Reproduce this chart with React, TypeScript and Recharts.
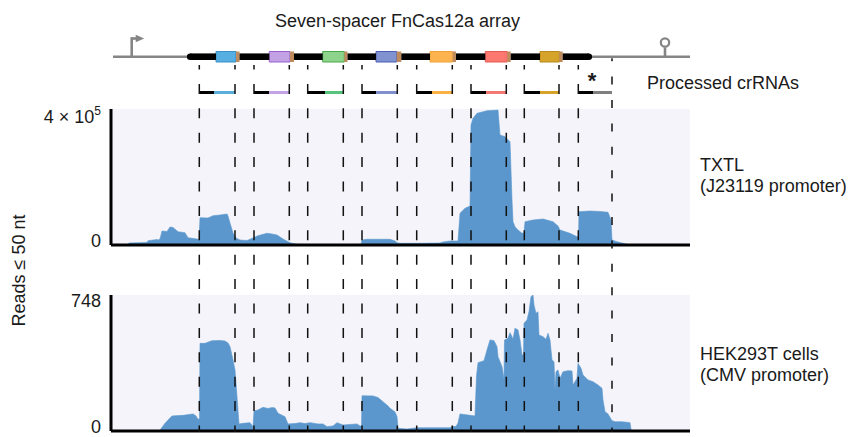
import React from 'react';
import {
  AreaChart,
  Area,
  XAxis,
  YAxis,
  CartesianGrid,
  ComposedChart,
  ReferenceLine,
  ReferenceArea,
  ReferenceDot,
} from 'recharts';

const W = 855;
const H = 437;
const FONT = '"Liberation Sans", Arial, Helvetica, sans-serif';
const TEXT = '#1a1a1a';
const AREA_BLUE = '#5b97cd';
const PANEL_BG = '#f4f4fa';

// position along the construct (nt, arbitrary origin at the plot start)
const X_DOMAIN: [number, number] = [0, 579];

// ---- TXTL coverage (reads <= 50 nt) ----
const txtlPositions = [
  17, 18, 36, 37, 46, 47, 49, 51, 56, 59,
  62, 65, 67, 74, 77, 86, 88, 89, 97, 102,
  109, 116, 117, 119, 122, 125, 129, 136, 142, 147,
  156, 161, 166, 172, 179, 186, 199, 250, 251, 256,
  279, 284, 286, 289, 309, 329, 332, 339, 347, 349,
  354, 359, 360, 362, 366, 376, 387, 389, 394, 399,
  401, 402, 404, 407, 411, 413, 414, 422, 432, 442,
  447, 449, 459, 466, 467.5, 468, 479, 489, 497, 500,
  501, 506, 516, 519,
];
const txtlReads = [
  0, 5900, 7400, 12600, 16200, 14700, 17600, 41200, 39700, 52900,
  51500, 44100, 39100, 36200, 21500, 17600, 16200, 80300, 79400, 86200,
  88200, 91200, 85300, 64700, 35300, 20600, 14700, 13200, 20600, 27400,
  34400, 32400, 29400, 17600, 6800, 2100, 600, 600, 14700, 16800,
  16800, 11800, 6800, 5000, 5000, 5900, 8800, 11800, 11800, 93200,
  107900, 114700, 352900, 372600, 387300, 395000, 397000, 323500, 318500, 303800,
  132300, 68500, 53800, 44100, 34400, 35300, 68500, 73500, 76500, 68500,
  55900, 44100, 34400, 24400, 24400, 97900, 100000, 98500, 96200, 73500,
  14700, 9700, 2100, 0,
];

// ---- HEK293T coverage (reads <= 50 nt) ----
const hekPositions = [
  48, 49, 54, 59, 61, 72, 82, 85, 87, 88.5,
  89, 94, 101, 109, 114, 117, 119, 122, 124, 126,
  128, 132, 139, 142, 143, 147, 152, 157, 161, 164,
  167, 174, 177, 184, 189, 194, 199, 207, 212, 216,
  222, 226, 232, 239, 246, 249, 250.5, 251, 262, 267,
  272, 277, 279, 284, 286, 287, 296, 306, 319, 339,
  341, 345, 347, 349, 357, 364, 365.5, 367, 373, 376,
  379, 383, 386, 387, 391, 393, 393.5, 397, 399, 401,
  402, 404, 407, 409, 411, 412.5, 413, 416, 418, 420,
  422, 423, 425, 427, 428, 432, 435, 437, 439, 441,
  443, 444, 445, 447, 449, 452, 457, 461, 462, 466,
  467, 470, 472, 477, 482, 487, 491, 492, 494, 497,
  501, 504, 511, 519, 520, 521,
];
const hekReads = [
  0, 5, 42, 72, 83, 86, 94, 83, 64, 66,
  482, 482, 497, 498, 495, 484, 464, 391, 336, 189,
  39, 42, 46, 24, 110, 116, 130, 124, 129, 127,
  97, 79, 39, 41, 46, 41, 46, 39, 39, 24,
  28, 46, 33, 36, 39, 28, 28, 194, 193, 184,
  161, 138, 125, 105, 79, 15, 11, 18, 18, 18,
  25, 25, 44, 94, 88, 83, 303, 376, 387, 446,
  501, 497, 464, 409, 354, 284, 501, 510, 541, 519,
  504, 565, 556, 501, 418, 418, 592, 611, 656, 739,
  748, 693, 647, 656, 528, 519, 504, 537, 501, 391,
  381, 226, 326, 336, 290, 326, 332, 330, 253, 290,
  372, 345, 308, 281, 271, 253, 235, 171, 106, 94,
  57, 51, 51, 46, 9, 0,
];

const txtlTicks = [0, 400000];
const hekTicks = [0, 748];

// ---- array schematic ----
const arrayStart = 76;
const arrayEnd = 481;
const promoterPos = 20.7;
const terminatorPos = 554;
const lineStart = 2;
const spacerStart = [105, 158.3, 211.7, 265, 319, 374.3, 429];
const spacerEnd = [125, 179, 233.3, 285.7, 341.7, 396.3, 448.3];
const handleEnd = [128.5, 183, 236.5, 290.3, 345, 399.7, 451.7];
const spacerFill = ['#56afe0', '#c2a2e4', '#8ed38b', '#8092cf', '#fdb44f', '#fb776f', '#d6a32b'];
const spacerStroke = ['#3b8fc8', '#9b60cf', '#4aa84c', '#4c5db5', '#f0a23a', '#e65c55', '#b88a1e'];
const handleColor = '#bf8b5c';

// processed crRNAs: start, repeat/spacer boundary, end
const crStart = [88.3, 143, 196.7, 251, 305.7, 360, 413.3, 467.3];
const crSplit = [103, 158.3, 214, 265, 321, 375, 429, 482];
const crEnd = [124, 178.3, 232.3, 286.3, 341.3, 395.3, 448, 501];
const crColors = ['#5aaedc', '#c3a3e3', '#56c47c', '#8190cc', '#fbb245', '#f47872', '#d6a32a', '#7f7f7f'];

const txtlData = txtlPositions.map((pos, i) => ({ pos, reads: txtlReads[i] }));
const hekData = hekPositions.map((pos, i) => ({ pos, reads: hekReads[i] }));
const frameData = crStart.map((pos) => ({ pos }));

// layout rows of the schematic (vertical layout units = px)
const Y_ARRAY = 56.7;
const Y_BOX_TOP = 51.5;
const Y_BOX_BOTTOM = 62;
const Y_BRACKET = 92.5;
const Y_DASH_TOP = 65;
const Y_DASH_BOTTOM = 432;
const Y_PROMOTER_TOP = 38.5;
const Y_TERM_TOP = 47.3;
const Y_TERM_CENTER = 42.5;
const GRAY = '#858585';

const makeTick = (offsets: Record<number, number>) => (props: any) => {
  const { x, y, payload } = props;
  const v = payload.value as number;
  const dy = offsets[v] ?? 0;
  if (v >= 10000) {
    const exp = Math.floor(Math.log10(v));
    const mant = Math.round(v / Math.pow(10, exp));
    return (
      <text x={x} y={y + dy} textAnchor="end" fontSize={18} fontFamily={FONT} fill={TEXT}>
        {`${mant} × 10`}
        <tspan dy={-8} fontSize={12}>
          {exp}
        </tspan>
      </text>
    );
  }
  return (
    <text x={x} y={y + dy} textAnchor="end" fontSize={18} fontFamily={FONT} fill={TEXT}>
      {v}
    </text>
  );
};

const abs: React.CSSProperties = { position: 'absolute', left: 0, top: 0 };

function Track({
  data,
  ticks,
  top,
  bottom,
  offsets,
}: {
  data: { pos: number; reads: number }[];
  ticks: number[];
  top: number;
  bottom: number;
  offsets: Record<number, number>;
}) {
  return (
    <div style={abs}>
      <AreaChart
        width={W}
        height={H}
        data={data}
        margin={{ top, right: 165, bottom: H - bottom - 2, left: 51 }}
      >
        <CartesianGrid fill={PANEL_BG} horizontal={false} vertical={false} />
        <XAxis
          type="number"
          dataKey="pos"
          domain={X_DOMAIN}
          allowDataOverflow
          tick={false}
          tickLine={false}
          height={2}
          axisLine={{ stroke: '#000', strokeWidth: 3 }}
        />
        <YAxis
          type="number"
          domain={[0, ticks[1]]}
          ticks={ticks}
          interval={0}
          width={60}
          tickSize={0}
          tickMargin={10}
          tickLine={false}
          axisLine={{ stroke: '#000', strokeWidth: 3 }}
          tick={makeTick(offsets)}
          allowDataOverflow
        />
        <Area
          type="linear"
          dataKey="reads"
          stroke={AREA_BLUE}
          strokeWidth={0.6}
          fill={AREA_BLUE}
          fillOpacity={1}
          dot={false}
          activeDot={false}
          isAnimationActive={false}
        />
      </AreaChart>
    </div>
  );
}

function Schematic() {
  const blackSegs: [number, number][] = [];
  blackSegs.push([arrayStart + 3.2, spacerStart[0]]);
  for (let i = 0; i < spacerStart.length - 1; i++) blackSegs.push([handleEnd[i], spacerStart[i + 1]]);
  blackSegs.push([handleEnd[handleEnd.length - 1], arrayEnd - 3.2]);

  const dashPositions = [...crStart, ...crEnd.slice(0, crEnd.length - 1)];
  const lastDash = crEnd[crEnd.length - 1];

  return (
    <div style={abs}>
      <ComposedChart width={W} height={H} data={frameData} margin={{ top: 0, right: 165, bottom: 0, left: 111 }}>
        <XAxis type="number" dataKey="pos" domain={X_DOMAIN} hide allowDataOverflow />
        <YAxis type="number" domain={[0, H]} reversed hide allowDataOverflow />

        {/* backbone */}
        <ReferenceLine
          segment={[{ x: lineStart, y: Y_ARRAY }, { x: arrayStart + 1, y: Y_ARRAY }]}
          stroke={GRAY}
          strokeWidth={2.6}
        />
        <ReferenceLine
          segment={[{ x: arrayEnd - 1, y: Y_ARRAY }, { x: X_DOMAIN[1], y: Y_ARRAY }]}
          stroke={GRAY}
          strokeWidth={2.6}
        />
        {/* promoter */}
        <ReferenceLine
          segment={[{ x: promoterPos, y: Y_ARRAY }, { x: promoterPos, y: Y_PROMOTER_TOP }]}
          stroke={GRAY}
          strokeWidth={2.6}
          strokeLinecap="square"
        />
        <ReferenceLine
          segment={[{ x: promoterPos, y: Y_PROMOTER_TOP }, { x: promoterPos + 5, y: Y_PROMOTER_TOP }]}
          stroke={GRAY}
          strokeWidth={2.6}
        />
        <ReferenceDot
          x={promoterPos + 5}
          y={Y_PROMOTER_TOP}
          r={4}
          shape={(p: any) => (
            <path d={`M${p.cx - 1},${p.cy - 3.8} L${p.cx + 7.5},${p.cy} L${p.cx - 1},${p.cy + 3.8} Z`} fill={GRAY} />
          )}
        />
        {/* terminator */}
        <ReferenceLine
          segment={[{ x: terminatorPos, y: Y_ARRAY }, { x: terminatorPos, y: Y_TERM_TOP }]}
          stroke={GRAY}
          strokeWidth={2.6}
        />
        <ReferenceDot
          x={terminatorPos}
          y={Y_TERM_CENTER}
          r={4.2}
          fill="#fff"
          stroke={GRAY}
          strokeWidth={2.2}
        />

        {/* repeats (black) */}
        {blackSegs.map(([a, b], i) => (
          <ReferenceLine
            key={`bk${i}`}
            segment={[{ x: a, y: Y_ARRAY }, { x: b, y: Y_ARRAY }]}
            stroke="#000"
            strokeWidth={6.6}
          />
        ))}
        <ReferenceDot x={arrayStart + 3.2} y={Y_ARRAY} r={3.3} fill="#000" stroke="none" />
        <ReferenceDot x={arrayEnd - 3.2} y={Y_ARRAY} r={3.3} fill="#000" stroke="none" />

        {/* spacers */}
        {spacerStart.map((s, i) => (
          <ReferenceArea
            key={`sp${i}`}
            x1={s}
            x2={spacerEnd[i]}
            y1={Y_BOX_TOP}
            y2={Y_BOX_BOTTOM}
            fill={spacerFill[i]}
            fillOpacity={1}
            stroke={spacerStroke[i]}
            strokeWidth={1}
          />
        ))}
        {spacerEnd.map((e, i) => (
          <ReferenceArea
            key={`h${i}`}
            x1={e}
            x2={handleEnd[i]}
            y1={Y_BOX_TOP}
            y2={Y_BOX_BOTTOM}
            fill={handleColor}
            fillOpacity={1}
            stroke="none"
          />
        ))}

        {/* processed crRNAs */}
        {crStart.map((s, i) => (
          <ReferenceLine
            key={`crk${i}`}
            segment={[{ x: s, y: Y_BRACKET }, { x: crSplit[i], y: Y_BRACKET }]}
            stroke="#000"
            strokeWidth={3}
          />
        ))}
        {crSplit.map((s, i) => (
          <ReferenceLine
            key={`crc${i}`}
            segment={[{ x: s, y: Y_BRACKET }, { x: crEnd[i], y: Y_BRACKET }]}
            stroke={crColors[i]}
            strokeWidth={3}
          />
        ))}

        {/* processing sites */}
        {dashPositions.map((p, i) => (
          <ReferenceLine
            key={`d${i}`}
            segment={[{ x: p, y: Y_DASH_TOP }, { x: p, y: Y_DASH_BOTTOM }]}
            stroke="#111"
            strokeWidth={1.5}
            strokeDasharray="10 14.4"
            strokeDashoffset={5.5}
          />
        ))}
        <ReferenceLine
          segment={[{ x: lastDash, y: Y_ARRAY + 1.5 }, { x: lastDash, y: Y_DASH_BOTTOM }]}
          stroke="#111"
          strokeWidth={1.5}
          strokeDasharray="8 15.4"
          strokeDashoffset={5}
        />
      </ComposedChart>
    </div>
  );
}

function Labels() {
  const t = { fontFamily: FONT, fontSize: 18, fill: TEXT };
  return (
    <svg width={W} height={H} style={abs}>
      <text x={275} y={26.5} {...t}>
        Seven-spacer FnCas12a array
      </text>
      <text x={647} y={89} {...t}>
        Processed crRNAs
      </text>
      <text x={592} y={88} textAnchor="middle" fontFamily={FONT} fontSize={22} fontWeight="bold" fill={TEXT}>
        *
      </text>
      <text x={700} y={170.5} {...t}>
        TXTL
      </text>
      <text x={700} y={191.5} {...t}>
        (J23119 promoter)
      </text>
      <text x={700} y={359.5} {...t}>
        HEK293T cells
      </text>
      <text x={700} y={380.5} {...t}>
        (CMV promoter)
      </text>
      <text x={25} y={270.5} textAnchor="middle" transform="rotate(-90 25 270.5)" {...t}>
        Reads ≤ 50 nt
      </text>
    </svg>
  );
}

export default function App() {
  return (
    <div style={{ position: 'absolute', left: 0, top: 0, width: W, height: H, background: '#fff', overflow: 'hidden' }}>
      <Track data={txtlData} ticks={txtlTicks} top={109} bottom={245} offsets={{ 400000: 13.5, 0: 1.5 }} />
      <Track data={hekData} ticks={hekTicks} top={295} bottom={431} offsets={{ 748: 12, 0: 2 }} />
      <Labels />
      <Schematic />
    </div>
  );
}
